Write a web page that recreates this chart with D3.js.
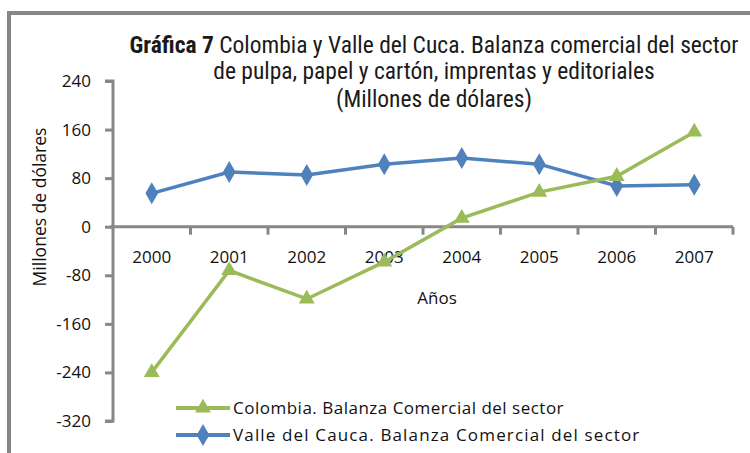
<!DOCTYPE html>
<html>
<head>
<meta charset="utf-8">
<script src="https://cdn.jsdelivr.net/npm/d3@7"></script>
<style>
  body { margin: 0; background: #fff; }
  svg { display: block; }
</style>
</head>
<body>
<div id="chart"></div>
<script>
var years = ["2000", "2001", "2002", "2003", "2004", "2005", "2006", "2007"];
var colombia = [-240, -72, -119, -58, 14, 57, 83, 156];
var valle = [55, 90, 85, 103, 113, 103, 67, 69];
var yTicks = [240, 160, 80, 0, -80, -160, -240, -320];
var legendNames = ["Colombia. Balanza Comercial del sector", "Valle del Cauca. Balanza Comercial del sector"];

var width = 750, height = 453;
var green = "#9bbb59", blue = "#4f81bd", gray = "#878787";
var tickFont = "'Open Sans', 'Noto Sans', sans-serif";
var titleFont = "'Liberation Sans Narrow', 'Arial Narrow', 'Roboto Condensed', sans-serif";

var svg = d3.select("#chart").append("svg")
    .attr("width", width).attr("height", height);

// outer frame
svg.append("path")
    .attr("d", "M9,453 V13 H750")
    .attr("fill", "none").attr("stroke", gray).attr("stroke-width", 4);

var x = d3.scaleBand().domain(years).range([113, 733]);
var y = d3.scaleLinear().domain([-320, 240]).range([421, 81]);

// y axis
var yAxis = svg.append("g").attr("transform", "translate(113,0)")
    .call(d3.axisLeft(y).tickValues(yTicks).tickSize(8).tickPadding(14)
        .tickFormat(function (d) { return String(d); }));
yAxis.select(".domain").attr("stroke", gray).attr("stroke-width", 3)
    .attr("d", "M-8," + y(240) + "H0V" + y(-320) + "H-8");
yAxis.selectAll(".tick line").attr("stroke", gray).attr("stroke-width", 3);
yAxis.selectAll(".tick text").attr("font-family", tickFont).attr("font-size", 17).attr("fill", "#111");

// x axis at zero
var xAxis = svg.append("g").attr("transform", "translate(0," + y(0) + ")")
    .call(d3.axisBottom(x).tickSize(0).tickPadding(24));
xAxis.select(".domain").attr("stroke", gray).attr("stroke-width", 3)
    .attr("d", "M110,0H733");
xAxis.selectAll(".tick text").attr("font-family", tickFont).attr("font-size", 17).attr("fill", "#111");
xAxis.selectAll(".sep").data(years).enter().append("line")
    .attr("x1", function (d) { return x(d) + x.bandwidth(); })
    .attr("x2", function (d) { return x(d) + x.bandwidth(); })
    .attr("y1", 0).attr("y2", 8)
    .attr("stroke", gray).attr("stroke-width", 3);

// axis titles
svg.append("text")
    .attr("transform", "translate(46,207) rotate(-90)")
    .attr("text-anchor", "middle")
    .attr("font-family", tickFont).attr("font-size", 17.5).attr("fill", "#111")
    .text("Millones de dólares");
svg.append("text")
    .attr("x", 437).attr("y", 304)
    .attr("text-anchor", "middle")
    .attr("font-family", tickFont).attr("font-size", 17).attr("fill", "#111")
    .text("Años");

// title
var title = svg.append("text")
    .attr("text-anchor", "middle")
    .attr("font-family", titleFont).attr("font-size", 23.5).attr("fill", "#1a1a1a");
var t1 = title.append("tspan").attr("x", 434).attr("y", 53);
t1.append("tspan").attr("font-weight", "bold").text("Gráfica 7");
t1.append("tspan").text(" Colombia y Valle del Cuca. Balanza comercial del sector");
title.append("tspan").attr("x", 434).attr("y", 79).text("de pulpa, papel y cartón, imprentas y editoriales");
title.append("tspan").attr("x", 434).attr("y", 107).text("(Millones de dólares)");

var cx = function (d, i) { return x(years[i]) + x.bandwidth() / 2; };
var line = d3.line().x(cx).y(function (d) { return y(d); });

var triangle = d3.symbol().type(d3.symbolTriangle).size(110);
var diamond = d3.symbol().type(d3.symbolDiamond).size(140);

function drawSeries(vals, color, sym) {
    svg.append("path").datum(vals)
        .attr("d", line).attr("fill", "none")
        .attr("stroke", color).attr("stroke-width", 3.5);
    svg.selectAll(null).data(vals).enter().append("path")
        .attr("d", sym)
        .attr("transform", function (d, i) { return "translate(" + cx(d, i) + "," + y(d) + ")"; })
        .attr("fill", color);
}
drawSeries(valle, blue, diamond);
drawSeries(colombia, green, triangle);

// legend
var legend = svg.append("g");
var spacing = [0.5, 1.15];
[[green, triangle], [blue, diamond]].forEach(function (s, i) {
    var ly = 408 + i * 27;
    legend.append("line").attr("x1", 176).attr("x2", 230).attr("y1", ly).attr("y2", ly)
        .attr("stroke", s[0]).attr("stroke-width", 4);
    legend.append("path").attr("d", s[1]).attr("transform", "translate(203," + ly + ")").attr("fill", s[0]);
    legend.append("text").attr("x", 233).attr("y", ly + 6)
        .attr("font-family", tickFont).attr("font-size", 17).attr("letter-spacing", spacing[i]).attr("fill", "#111")
        .text(legendNames[i]);
});
</script>
</body>
</html>
